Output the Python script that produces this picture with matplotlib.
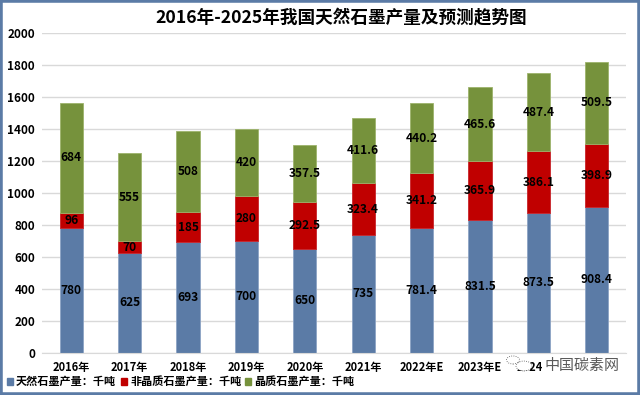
"""Natural graphite output in China, 2016-2025 stacked bars."""

from matplotlib import pyplot
from matplotlib.patches import Rectangle, Circle

years = ['2016年', '2017年', '2018年', '2019年', '2020年', '2021年',
         '2022年E', '2023年E', '2024年E', '2025年E']
natural = [780, 625, 693, 700, 650, 735, 781.4, 831.5, 873.5, 908.4]
amorphous = [96, 70, 185, 280, 292.5, 323.4, 341.2, 365.9, 386.1, 398.9]
flake = [684, 555, 508, 420, 357.5, 411.6, 440.2, 465.6, 487.4, 509.5]
yticks = list(range(0, 2001, 200))

names = ['天然石墨产量：千吨', '非晶质石墨产量：千吨', '晶质石墨产量：千吨']
colors = ['#5B7BA6', '#C00000', '#76923C']
edges = ['#8CA3C4', '#C8242A', '#9DB36B']

pyplot.rcParams['font.family'] = ['Noto Sans CJK SC', 'DejaVu Sans']
pyplot.rcParams['font.size'] = 8

W, H = 640.0, 395.0
fig = pyplot.figure(figsize=(6.4, 3.95), dpi=100)
ax = fig.add_axes([42 / W, 1 - 352.5 / H, 584 / W, 319.5 / H])

x = list(range(len(years)))
bottom = [0.0] * len(years)
for values, color, edge in zip([natural, amorphous, flake], colors, edges):
    ax.bar(x, values, width=0.4, bottom=bottom, color=color,
           edgecolor=edge, linewidth=0.6, zorder=2)
    for xi, b, v in zip(x, bottom, values):
        ax.text(xi, b + v / 2, f'{v:g}', ha='center', va='center',
                fontsize=8.6, fontweight='bold', color='black', zorder=3)
    bottom = [b + v for b, v in zip(bottom, values)]

ax.set_xlim(-0.5, len(years) - 0.5)
ax.set_ylim(0, 2000)
ax.set_yticks(yticks)
ax.set_xticks(x)
ax.set_xticklabels(years, fontweight='bold', fontsize=8)
for label in ax.get_yticklabels():
    label.set_fontweight('bold')
    label.set_fontsize(8.5)
ax.tick_params(length=0, pad=5)
ax.tick_params(axis='x', pad=6)
ax.grid(axis='y', color='#D9D9D9', linewidth=1.0, zorder=0)
ax.set_axisbelow(True)
for side in ['top', 'right', 'left']:
    ax.spines[side].set_visible(False)
ax.spines['bottom'].set_color('#D9D9D9')

fig.text(341 / W, 1 - 17 / H, '2016年-2025年我国天然石墨产量及预测趋势图',
         ha='center', va='center', fontsize=12.7, fontweight='bold')

# Legend laid out by hand to sit flush on the bottom left.
legend_x = [7, 121, 245]
for lx, name, color in zip(legend_x, names, colors):
    fig.add_artist(Rectangle((lx / W, 1 - 385 / H), 6 / W, 7 / H,
                             transform=fig.transFigure, color=color))
    fig.text((lx + 9) / W, 1 - 381 / H, name, ha='left', va='center',
             fontsize=8, fontweight='bold')

# Watermark sits on top of the last tick labels, as in the source image.
fig.text(582 / W, 1 - 366 / H, '中国碳素网', ha='center', va='center',
         fontsize=10.8, color='#5A5A5A', zorder=5,
         bbox=dict(facecolor='white', edgecolor='none', pad=2))
for cx, cy, r in [(513, 360, 6.5), (524, 366, 8)]:
    fig.add_artist(Circle((cx / W, 1 - cy / H), r / W,
                          transform=fig.transFigure, facecolor='white',
                          edgecolor='#555555', linewidth=0.6, linestyle=':',
                          zorder=5))

# Blue frame round the whole picture.
fig.add_artist(Rectangle((0, 0), 1, 1, transform=fig.transFigure, fill=False,
                         edgecolor='#5B7BA6', linewidth=4, zorder=6))

fig.savefig('out.png', dpi=100)
